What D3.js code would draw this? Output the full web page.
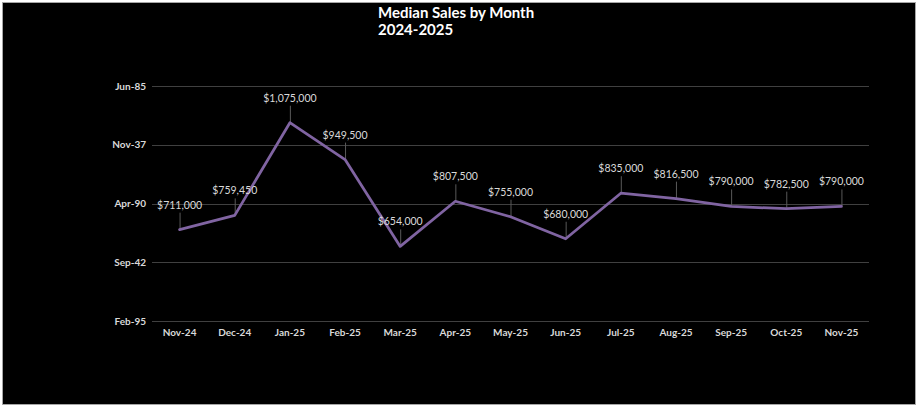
<!DOCTYPE html>
<html>
<head>
<meta charset="utf-8">
<script src="https://cdn.jsdelivr.net/npm/d3@7"></script>
<style>
  html, body { margin: 0; padding: 0; background: #ffffff; }
  svg { display: block; }
</style>
</head>
<body>
<svg id="chart" width="918" height="407"></svg>
<script>
// ---- data ----
const categories = ["Nov-24","Dec-24","Jan-25","Feb-25","Mar-25","Apr-25","May-25","Jun-25","Jul-25","Aug-25","Sep-25","Oct-25","Nov-25"];
const medianSales = [711000, 759450, 1075000, 949500, 654000, 807500, 755000, 680000, 835000, 816500, 790000, 782500, 790000];
const yTickValues = [400000, 600000, 800000, 1000000, 1200000];
const yTickLabels = ["Feb-95", "Sep-42", "Apr-90", "Nov-37", "Jun-85"];
const titleLines = ["Median Sales by Month", "2024-2025"];

// ---- layout ----
const svg = d3.select("#chart");
const W = 918, H = 407;
const plot = { left: 152, right: 869, top: 86, bottom: 321 };

// background / chart frame
svg.append("rect").attr("x", 0).attr("y", 0).attr("width", W).attr("height", H).attr("fill", "#ffffff");
svg.append("rect").attr("x", 2.5).attr("y", 2.5).attr("width", 913).attr("height", 402)
  .attr("fill", "#000000").attr("stroke", "#a6a6a6").attr("stroke-width", 1);

const x = d3.scaleBand().domain(categories).range([plot.left, plot.right]).padding(0);
const y = d3.scaleLinear().domain([400000, 1200000]).range([plot.bottom, plot.top]);

const font = "Lato, 'Open Sans', 'Liberation Sans', sans-serif";

// gridlines
svg.append("g").selectAll("line").data(yTickValues).join("line")
  .attr("x1", plot.left).attr("x2", plot.right)
  .attr("y1", d => Math.round(y(d)) + 0.5).attr("y2", d => Math.round(y(d)) + 0.5)
  .attr("stroke", "#404040").attr("stroke-width", 1);

// y axis
const yAxis = d3.axisLeft(y).tickValues(yTickValues)
  .tickFormat((d, i) => yTickLabels[i]).tickSize(0).tickPadding(6);
const gy = svg.append("g").attr("transform", `translate(${plot.left},0)`).call(yAxis);
gy.select(".domain").remove();
gy.selectAll("text").attr("fill", "#d9d9d9").attr("font-family", font)
  .attr("font-size", 10).attr("font-weight", "bold");

// x axis
const xAxis = d3.axisBottom(x).tickSize(0).tickPadding(8);
const gx = svg.append("g").attr("transform", `translate(0,${plot.bottom})`).call(xAxis);
gx.select(".domain").remove();
gx.selectAll("text").attr("fill", "#d9d9d9").attr("font-family", font)
  .attr("font-size", 10).attr("font-weight", "bold");

const cx = d => x(d) + x.bandwidth() / 2;
const pts = categories.map((c, i) => ({ c, v: medianSales[i] }));

// leader lines
svg.append("g").selectAll("line").data(pts).join("line")
  .attr("x1", d => cx(d.c) + 0.5).attr("x2", d => cx(d.c) + 0.5)
  .attr("y1", d => y(d.v) - 17).attr("y2", d => y(d.v))
  .attr("stroke", "#595959").attr("stroke-width", 1);

// line
const line = d3.line().x(d => cx(d.c)).y(d => y(d.v));
svg.append("path").datum(pts).attr("d", line)
  .attr("fill", "none").attr("stroke", "#8064a2").attr("stroke-width", 2.75)
  .attr("stroke-linejoin", "round").attr("stroke-linecap", "round");

// data labels
const fmt = d3.format("$,.0f");
svg.append("g").selectAll("text").data(pts).join("text")
  .attr("x", d => cx(d.c)).attr("y", d => y(d.v) - 21)
  .attr("text-anchor", "middle")
  .attr("fill", "#d9d9d9").attr("font-family", font).attr("font-size", 10.5)
  .text(d => fmt(d.v));

// title
const title = svg.append("text").attr("x", 378).attr("y", 18)
  .attr("fill", "#ffffff").attr("font-family", font).attr("font-size", 15).attr("font-weight", "bold");
title.selectAll("tspan").data(titleLines).join("tspan")
  .attr("x", 378).attr("dy", (d, i) => i === 0 ? 0 : 17).text(d => d);
</script>
</body>
</html>
